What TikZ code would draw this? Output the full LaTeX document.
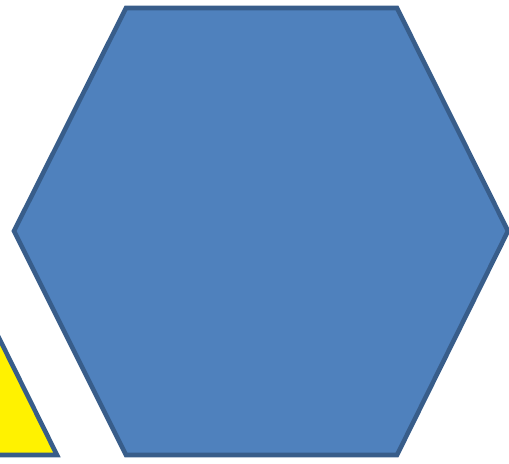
\documentclass[tikz,border=0pt]{standalone}
\definecolor{hexfill}{HTML}{4F81BD}
\definecolor{hexline}{HTML}{385D8A}
\begin{document}
\begin{tikzpicture}[x=0.02cm,y=-0.02cm]
  \useasboundingbox (0,0) rectangle (509,463);
  \clip (0,0) rectangle (509,463);
  \filldraw[fill=yellow,draw=hexline,line width=2.6pt,line join=miter] (-57,225) -- (57,455) -- (-171,455) -- cycle;
  \filldraw[fill=hexfill,draw=hexline,line width=2.6pt,line join=miter] (126,8) -- (397,8) -- (508,231) -- (397,455) -- (126,455) -- (14,231) -- cycle;
\end{tikzpicture}
\end{document}
